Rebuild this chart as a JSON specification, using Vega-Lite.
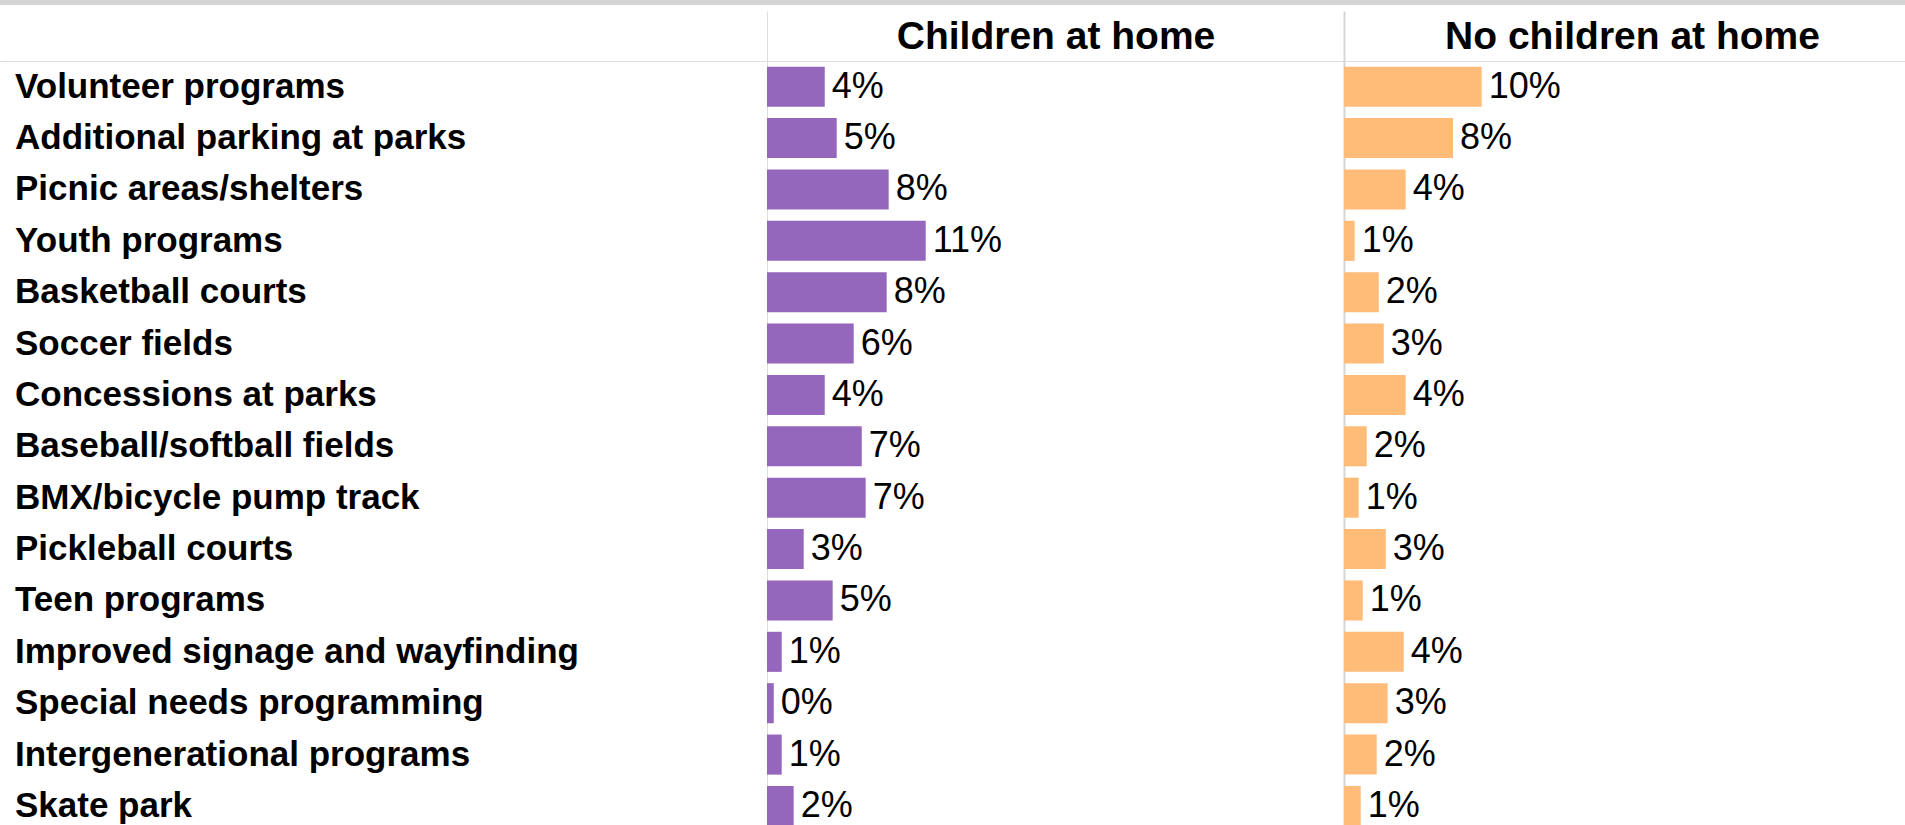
{
  "$schema": "https://vega.github.io/schema/vega-lite/v6.json",
  "padding": 0,
  "background": "white",
  "spacing": 5,
  "config": {"view": {"stroke": null}, "font": "Liberation Sans", "axis": {"grid": false}},
  "datasets": {
    "survey": [
      {"item": "Volunteer programs", "group": "Children at home", "value": 0.0401},
      {"item": "Additional parking at parks", "group": "Children at home", "value": 0.0484},
      {"item": "Picnic areas/shelters", "group": "Children at home", "value": 0.0845},
      {"item": "Youth programs", "group": "Children at home", "value": 0.1102},
      {"item": "Basketball courts", "group": "Children at home", "value": 0.0831},
      {"item": "Soccer fields", "group": "Children at home", "value": 0.0602},
      {"item": "Concessions at parks", "group": "Children at home", "value": 0.0401},
      {"item": "Baseball/softball fields", "group": "Children at home", "value": 0.0658},
      {"item": "BMX/bicycle pump track", "group": "Children at home", "value": 0.0685},
      {"item": "Pickleball courts", "group": "Children at home", "value": 0.0255},
      {"item": "Teen programs", "group": "Children at home", "value": 0.0456},
      {"item": "Improved signage and wayfinding", "group": "Children at home", "value": 0.0102},
      {"item": "Special needs programming", "group": "Children at home", "value": 0.0047},
      {"item": "Intergenerational programs", "group": "Children at home", "value": 0.0102},
      {"item": "Skate park", "group": "Children at home", "value": 0.0185},
      {"item": "Volunteer programs", "group": "No children at home", "value": 0.0956},
      {"item": "Additional parking at parks", "group": "No children at home", "value": 0.0757},
      {"item": "Picnic areas/shelters", "group": "No children at home", "value": 0.0428},
      {"item": "Youth programs", "group": "No children at home", "value": 0.0074},
      {"item": "Basketball courts", "group": "No children at home", "value": 0.0241},
      {"item": "Soccer fields", "group": "No children at home", "value": 0.0276},
      {"item": "Concessions at parks", "group": "No children at home", "value": 0.0428},
      {"item": "Baseball/softball fields", "group": "No children at home", "value": 0.0158},
      {"item": "BMX/bicycle pump track", "group": "No children at home", "value": 0.0102},
      {"item": "Pickleball courts", "group": "No children at home", "value": 0.029},
      {"item": "Teen programs", "group": "No children at home", "value": 0.013},
      {"item": "Improved signage and wayfinding", "group": "No children at home", "value": 0.0415},
      {"item": "Special needs programming", "group": "No children at home", "value": 0.0303},
      {"item": "Intergenerational programs", "group": "No children at home", "value": 0.0227},
      {"item": "Skate park", "group": "No children at home", "value": 0.0116}
    ]
  },
  "vconcat": [
    {
      "width": 1905,
      "height": 5,
      "data": {"values": [{}]},
      "mark": {"type": "rect", "color": "#d4d4d4"},
      "encoding": {}
    },
    {
      "spacing": 0,
      "bounds": "flush",
      "hconcat": [
        {
          "width": 767,
          "height": 765,
          "data": {"name": "survey"},
          "transform": [{"filter": "datum.group === 'Children at home'"}],
          "mark": {"type": "text", "align": "left", "baseline": "middle", "dx": 15, "fontSize": 35, "fontWeight": "bold", "color": "black"},
          "encoding": {
            "y": {"field": "item", "type": "nominal", "sort": null, "scale": {"type": "band", "paddingInner": 0.22, "paddingOuter": 0.055, "align": 1}, "axis": null},
            "x": {"datum": 0, "type": "quantitative", "scale": {"domain": [0, 1], "nice": false}, "axis": {"orient": "top", "labels": false, "ticks": false, "title": null, "domainColor": "#dddddd", "domainWidth": 1}},
            "text": {"field": "item"}
          }
        },
        {
          "width": 577,
          "height": 765,
          "data": {"name": "survey"},
          "transform": [{"filter": "datum.group === 'Children at home'"}],
          "encoding": {
            "y": {"field": "item", "type": "nominal", "sort": null, "scale": {"type": "band", "paddingInner": 0.22, "paddingOuter": 0.055, "align": 1}, "axis": {"labels": false, "ticks": false, "title": null, "domainColor": "#dddddd", "domainWidth": 1}},
            "x": {"field": "value", "type": "quantitative", "scale": {"domain": [0, 0.40069], "nice": false}, "axis": {"orient": "top", "values": [0], "labels": false, "tickSize": 50, "tickColor": "#dddddd", "tickWidth": 1, "domainColor": "#dddddd", "domainWidth": 1, "title": "Children at home", "titleFontSize": 39, "titleFontWeight": "bold", "titleColor": "black", "titleBaseline": "alphabetic", "titleY": -13}}
          },
          "layer": [
            {"mark": {"type": "bar", "color": "#9467bd"}},
            {"mark": {"type": "text", "align": "left", "baseline": "middle", "dx": 7, "fontSize": 36, "color": "black"}, "encoding": {"text": {"field": "value", "format": ".0%"}}}
          ]
        },
        {
          "width": 561,
          "height": 765,
          "data": {"name": "survey"},
          "transform": [{"filter": "datum.group === 'No children at home'"}],
          "encoding": {
            "y": {"field": "item", "type": "nominal", "sort": null, "scale": {"type": "band", "paddingInner": 0.22, "paddingOuter": 0.055, "align": 1}, "axis": {"labels": false, "ticks": false, "title": null, "domainColor": "#d6d6d6", "domainWidth": 2}},
            "x": {"field": "value", "type": "quantitative", "scale": {"domain": [0, 0.38958], "nice": false}, "axis": {"orient": "top", "values": [0], "labels": false, "tickSize": 50, "tickColor": "#d6d6d6", "tickWidth": 2, "domainColor": "#dddddd", "domainWidth": 1, "title": "No children at home", "titleFontSize": 39, "titleFontWeight": "bold", "titleColor": "black", "titleBaseline": "alphabetic", "titleY": -13, "titleX": 288}}
          },
          "layer": [
            {"mark": {"type": "bar", "color": "#ffbb78"}},
            {"mark": {"type": "text", "align": "left", "baseline": "middle", "dx": 7, "fontSize": 36, "color": "black"}, "encoding": {"text": {"field": "value", "format": ".0%"}}}
          ]
        }
      ]
    }
  ]
}
